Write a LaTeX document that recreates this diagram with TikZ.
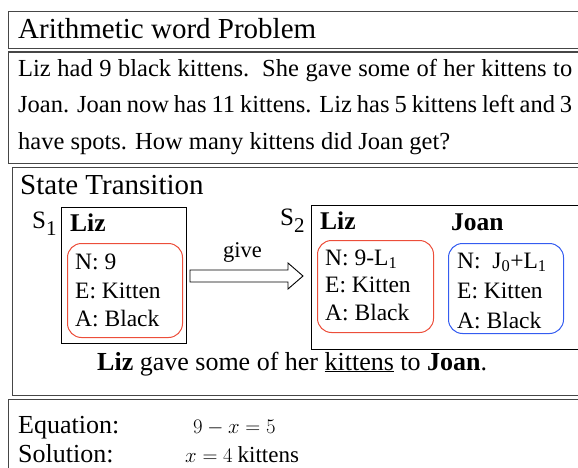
\documentclass[tikz,border=0pt]{standalone}
\usepackage{fontspec}
\setmainfont{Liberation Serif}
\definecolor{redc}{RGB}{236,78,58}
\definecolor{bluec}{RGB}{52,92,240}
\definecolor{framec}{RGB}{70,70,70}
\newcommand{\fsz}[2]{\fontsize{#1}{#2}\selectfont}
\begin{document}
\begin{tikzpicture}[x=1pt,y=-1pt,
  outerbox/.style={draw=framec, line width=1.3pt, inner sep=0pt, anchor=north west},
  statebox/.style={draw=black, line width=0.9pt, inner sep=0pt, anchor=north west},
  attrbox/.style={line width=1pt, rounded corners=14pt, inner sep=0pt, anchor=north west},
  blockarrow/.style={draw=black, line width=0.9pt, fill=white, line join=miter},
  txt/.style={anchor=base west, inner sep=0pt},
  bigtxt/.style={txt, font=\fsz{29}{34}},
  probtxt/.style={txt, font=\fsz{24.5}{30}},
  attrtxt/.style={txt, font=\fsz{23.5}{28}},
  nametxt/.style={txt, font=\fsz{25.5}{30}\bfseries},
  eqtxt/.style={txt, font=\fsz{26}{30}}
]
\useasboundingbox (0,0) rectangle (578,468);
\clip (0,0) rectangle (578,468);
% outer boxes
\node[outerbox, minimum width=620pt, minimum height=37pt] (titlebox) at (8,11) {};
\node[outerbox, minimum width=620pt, minimum height=111.5pt] (probbox) at (8,51.5) {};
\node[outerbox, minimum width=620pt, minimum height=228pt] (statebox) at (12,167) {};
\node[outerbox, minimum width=620pt, minimum height=100pt] (eqbox) at (8,399) {};
% title and problem
\node[bigtxt] (title) at (18,38.5) {Arithmetic word Problem};
\node[probtxt] (p1) at (18,76.5) {\makebox[554pt][s]{Liz had 9 black kittens.\ \ She gave some of her kittens to}};
\node[probtxt] (p2) at (18,113) {\makebox[554pt][s]{Joan. Joan now has 11 kittens. Liz has 5 kittens left and 3}};
\node[probtxt] (p3) at (18,149.5) {have spots. How many kittens did Joan get?};
% state transition
\node[bigtxt] (sthead) at (20,194) {State Transition};
\node[statebox, minimum width=125pt, minimum height=136pt] (s1box) at (61,207) {};
\node[statebox, minimum width=300pt, minimum height=144pt] (s2box) at (311,205) {};
\node[txt, font=\fsz{25}{30}] (s1lab) at (32,228) {S\raisebox{-7pt}{\fsz{21}{21}1}};
\node[txt, font=\fsz{25}{30}] (s2lab) at (280,225) {S\raisebox{-7pt}{\fsz{21}{21}2}};
\node[nametxt] (liz1) at (70,231.5) {Liz};
\node[attrbox, draw=redc, minimum width=115pt, minimum height=94pt] (red1) at (67,243) {};
\node[attrtxt] (a11) at (75,269) {N: 9};
\node[attrtxt] (a12) at (75,298) {E: Kitten};
\node[attrtxt] (a13) at (75,326) {A: Black};
\node[nametxt] (liz2) at (320,229) {Liz};
\node[nametxt] (joan) at (451,230) {Joan};
\node[attrbox, draw=redc, minimum width=116pt, minimum height=92pt] (red2) at (317,240) {};
\node[attrtxt] (a21) at (325,265) {N: 9-L\textsubscript{1}};
\node[attrtxt] (a22) at (325,292) {E: Kitten};
\node[attrtxt] (a23) at (325,320) {A: Black};
\node[attrbox, draw=bluec, minimum width=115pt, minimum height=90pt] (blue) at (448,243) {};
\node[attrtxt] (b1) at (457,268) {N:\ \ J\textsubscript{0}+L\textsubscript{1}};
\node[attrtxt] (b2) at (457,298) {E: Kitten};
\node[attrtxt] (b3) at (457,328) {A: Black};
% transition arrow (block arrow from state 1 to state 2)
\coordinate (arrowtail) at (190,276);
\draw[blockarrow] (arrowtail) ++(0,-6) -- ++(98,0) -- ++(0,-7) -- (303,276)
   -- (288,289) -- ++(0,-7) -- ++(-98,0) -- cycle;
\node[txt, font=\fsz{22.5}{26}] (give) at (223,257) {give};
\node[txt, font=\fsz{26}{30}] (sentence) at (97,370) {\textbf{Liz} gave some of her \underline{kittens} to \textbf{Joan}.};
% equation
\node[eqtxt] (eqlab) at (18,433) {Equation:};
\node[txt, font=\fsz{20}{24}] (eqval) at (193,433) {$9-x=5$};
\node[eqtxt] (sollab) at (18,462) {Solution:};
\node[txt, font=\fsz{20}{24}] (solval) at (185,462) {$x=4$ {\fsz{23}{26}kittens}};
\end{tikzpicture}
\end{document}
